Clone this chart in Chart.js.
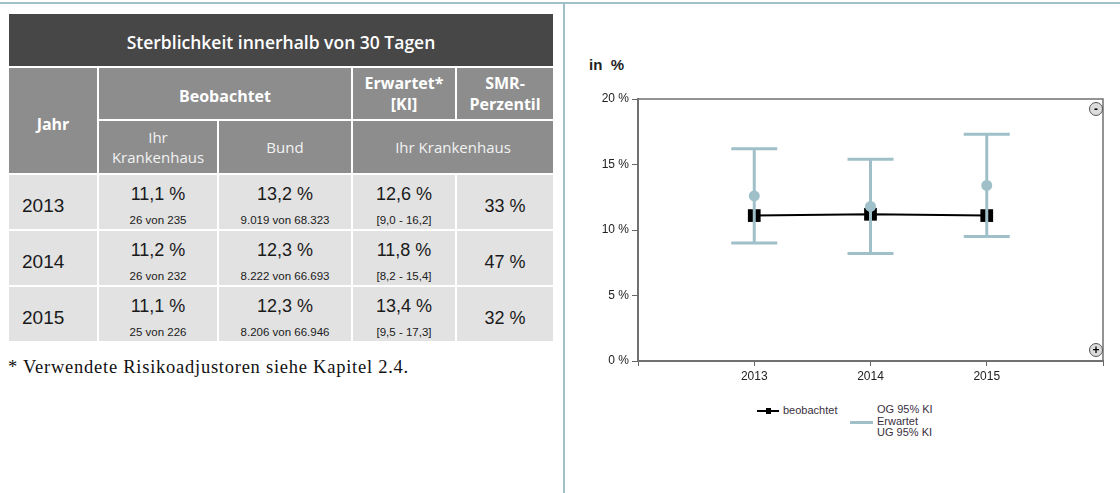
<!DOCTYPE html>
<html>
<head>
<meta charset="utf-8">
<script src="https://cdn.jsdelivr.net/npm/chart.js@4.4.1/dist/chart.umd.min.js"></script>
<style>
    body { margin: 0; background: #fff; width: 1120px; height: 493px; position: relative; overflow: hidden; }
    .rule_h { position: absolute; left: 0; top: 2px; width: 1120px; height: 2px; background: #a0c0c8; }
    .rule_v { position: absolute; left: 563px; top: 2px; width: 2px; height: 491px; background: #a0c0c8; }
    #tbl { position: absolute; left: 9px; top: 14px; width: 544px; display: grid;
        grid-template-columns: 88px 118px 132px 102px 96px;
        grid-template-rows: 52px 51px 52px 54px 54px 54px; gap: 2px; }
    #tbl div { display: flex; flex-direction: column; align-items: center; justify-content: center; text-align: center; }
    .t_title { grid-column: 1 / 6; background: #474747; color: #fff; font: 600 17.5px "Open Sans"; padding-top: 3px; box-sizing: border-box; }
    .t_head { background: #8d8d8d; color: #fff; font: 700 16px "Open Sans"; line-height: 21px; }
    .t_sub { background: #8d8d8d; color: #f2f2f2; font: 400 15px "Open Sans"; line-height: 20px; }
    #tbl .t_cell { background: #e2e2e2; color: #1a1a1a; font-family: "Liberation Sans"; justify-content: flex-start; padding-top: 8px; box-sizing: border-box; }
    .t_cell .main { font-size: 18px; line-height: 22px; }
    .t_cell .small { font-size: 11.5px; line-height: 18px; margin-top: 6px; }
    #tbl .t_year { align-items: flex-start; padding-left: 13px; justify-content: center; font-size: 19px; }
    #tbl .t_smr { justify-content: center; font-size: 18px; }
    .note { position: absolute; left: 8px; top: 357px; font: 18.5px "Liberation Serif"; letter-spacing: 0.75px; color: #111; white-space: nowrap; }
    .unit { position: absolute; left: 589px; top: 56px; font: bold 15px "Liberation Sans"; color: #222; }
    #chart { position: absolute; left: 570px; top: 73px; }
    .zbtn { position: absolute; width: 12px; height: 12px; border: 1.5px solid #555; border-radius: 50%; background: #dcdcdc;
        font: bold 12px/12px "Liberation Sans"; text-align: center; color: #000; }
    .lg { position: absolute; font: 11px "Liberation Sans"; color: #3a2f40; }
</style>
</head>
<body>
<div class="rule_h"></div>
<div class="rule_v"></div>

<div id="tbl">
    <div class="t_title">Sterblichkeit innerhalb von 30 Tagen</div>
    <div class="t_head" style="grid-row: 2 / 4; padding-top: 8px;">Jahr</div>
    <div class="t_head" style="grid-column: 2 / 4; padding-top: 6px;">Beobachtet</div>
    <div class="t_head">Erwartet*<br>[KI]</div>
    <div class="t_head">SMR-<br>Perzentil</div>
    <div class="t_sub">Ihr<br>Krankenhaus</div>
    <div class="t_sub">Bund</div>
    <div class="t_sub" style="grid-column: 4 / 6;">Ihr Krankenhaus</div>
</div>
<div class="note">* Verwendete Risikoadjustoren siehe Kapitel 2.4.</div>

<div class="unit">in&nbsp; %</div>
<canvas id="chart" width="559" height="318"></canvas>
<div class="zbtn" style="left: 1089px; top: 102px;">-</div>
<div class="zbtn" style="left: 1089px; top: 343px;">+</div>

<div class="lg" style="left: 757px; top: 410px; width: 22px; height: 2px; background: #000;"></div>
<div class="lg" style="left: 766px; top: 408px; width: 5px; height: 6px; background: #000;"></div>
<div class="lg" style="left: 783px; top: 404px;">beobachtet</div>
<div class="lg" style="left: 850px; top: 421px; width: 23px; height: 3px; background: #9fc0c8;"></div>
<div class="lg" style="left: 877px; top: 404px; line-height: 11.5px;">OG 95% KI<br>Erwartet<br>UG 95% KI</div>

<script>
var years = [2013, 2014, 2015];
var beobachtet = [11.1, 11.2, 11.1];
var erwartet = [12.6, 11.8, 13.4];
var og_ki = [16.2, 15.4, 17.3];
var ug_ki = [9.0, 8.2, 9.5];

// table columns
var kh_rate = ['11,1 %', '11,2 %', '11,1 %'];
var kh_count = ['26 von 235', '26 von 232', '25 von 226'];
var bund_rate = ['13,2 %', '12,3 %', '12,3 %'];
var bund_count = ['9.019 von 68.323', '8.222 von 66.693', '8.206 von 66.946'];
var erw_rate = ['12,6 %', '11,8 %', '13,4 %'];
var erw_ki = ['[9,0 - 16,2]', '[8,2 - 15,4]', '[9,5 - 17,3]'];
var smr = ['33 %', '47 %', '32 %'];

var blue = '#9fc0c8';

var tbl = document.getElementById('tbl');
for (var i = 0; i < years.length; i++) {
    var html = '<div class="t_cell t_year">' + years[i] + '</div>';
    html += '<div class="t_cell"><span class="main">' + kh_rate[i] + '</span><span class="small">' + kh_count[i] + '</span></div>';
    html += '<div class="t_cell"><span class="main">' + bund_rate[i] + '</span><span class="small">' + bund_count[i] + '</span></div>';
    html += '<div class="t_cell"><span class="main">' + erw_rate[i] + '</span><span class="small">' + erw_ki[i] + '</span></div>';
    html += '<div class="t_cell t_smr">' + smr[i] + '</div>';
    tbl.insertAdjacentHTML('beforeend', html);
}

var datasets = [];
datasets.push({
    label: 'beobachtet',
    data: years.map(function(y, i) { return {x: y, y: beobachtet[i]}; }),
    borderColor: '#000', borderWidth: 2,
    pointStyle: 'rect', pointRadius: 9, pointBackgroundColor: '#000', pointBorderWidth: 0,
    order: 5
});
for (var i = 0; i < years.length; i++) {
    datasets.push({
        label: 'KI ' + years[i],
        data: [{x: years[i], y: ug_ki[i]}, {x: years[i], y: og_ki[i]}],
        borderColor: blue, borderWidth: 3, pointRadius: 0,
        order: 4
    });
}
datasets.push({
    label: 'OG / UG 95% KI',
    data: years.map(function(y, i) { return {x: y, y: og_ki[i]}; })
        .concat(years.map(function(y, i) { return {x: y, y: ug_ki[i]}; })),
    showLine: false,
    pointStyle: 'line', pointRadius: 23, pointBorderColor: blue, pointBorderWidth: 3,
    order: 3
});
datasets.push({
    label: 'Erwartet',
    data: years.map(function(y, i) { return {x: y, y: erwartet[i]}; }),
    showLine: false,
    pointStyle: 'circle', pointRadius: 5.5, pointBackgroundColor: blue, pointBorderWidth: 0,
    order: 2
});

var frame_plugin = {
    id: 'frame',
    beforeDatasetsDraw: function(chart) {
        var a = chart.chartArea;
        var ctx = chart.ctx;
        ctx.save();
        ctx.strokeStyle = '#707070';
        ctx.lineWidth = 1.5;
        ctx.strokeRect(a.left, a.top, a.right - a.left, a.bottom - a.top);
        ctx.restore();
    }
};

var config = {
    type: 'line',
    data: { datasets: datasets },
    options: {
        responsive: false,
        animation: false,
        layout: { padding: { top: 9, right: 14, bottom: 0, left: 0 } },
        plugins: { legend: { display: false }, tooltip: { enabled: false } },
        scales: {
            x: {
                type: 'linear', min: 2012, max: 2016, offset: false,
                afterFit: function(s) { s.height = 30; },
                grid: { drawOnChartArea: false, tickLength: 5, color: '#666', offset: false },
                border: { color: '#707070', width: 2 },
                ticks: {
                    stepSize: 1, padding: 3, color: '#222', maxRotation: 0, autoSkip: false,
                    font: { family: 'Liberation Sans', size: 12 },
                    callback: function(v) { return years.indexOf(v) >= 0 ? String(v) : ''; }
                }
            },
            y: {
                min: 0, max: 20,
                afterFit: function(s) { s.width = 68; },
                grid: { drawOnChartArea: false, tickLength: 6, color: '#666' },
                border: { color: '#707070', width: 2 },
                ticks: {
                    stepSize: 5, padding: 3, color: '#222',
                    font: { family: 'Liberation Sans', size: 12 },
                    callback: function(v) { return v + ' %'; }
                }
            }
        }
    },
    plugins: [frame_plugin]
};

var myChart = new Chart(document.getElementById('chart'), config);
</script>
</body>
</html>
